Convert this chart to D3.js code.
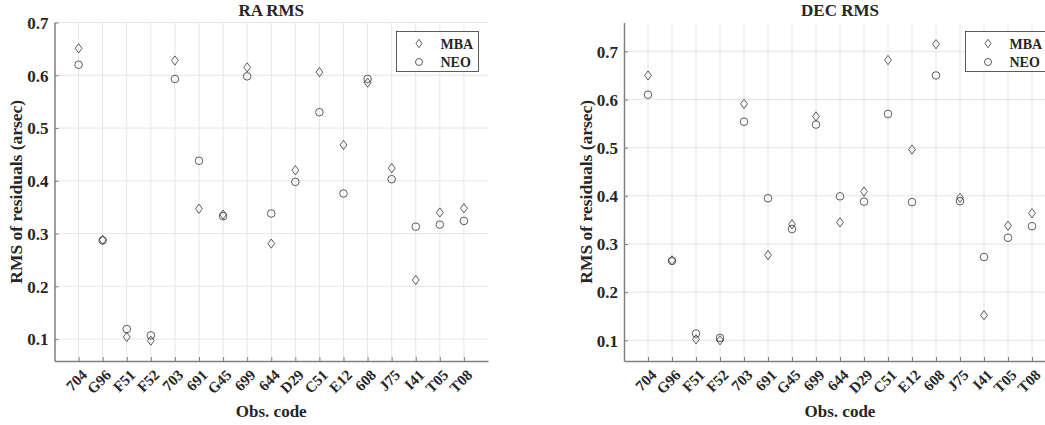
<!DOCTYPE html>
<html><head><meta charset="utf-8">
<script src="https://cdn.jsdelivr.net/npm/d3@7"></script>
<style>body{margin:0;background:#fff}svg{display:block}text{font-family:"Liberation Serif","Times New Roman",serif;font-weight:bold;fill:#262626}</style>
</head><body><svg id="c" width="1045" height="425"></svg>
<script>
const categories = ["704","G96","F51","F52","703","691","G45","699","644","D29","C51","E12","608","J75","I41","T05","T08"];
const raMBA = [0.651,0.288,0.104,0.097,0.628,0.347,0.336,0.615,0.281,0.420,0.606,0.468,0.586,0.424,0.212,0.340,0.348];
const raNEO = [0.620,0.287,0.119,0.107,0.593,0.438,0.333,0.598,0.338,0.398,0.530,0.376,0.593,0.403,0.313,0.317,0.324];
const decMBA = [0.650,0.266,0.102,0.100,0.591,0.277,0.341,0.565,0.345,0.409,0.682,0.496,0.715,0.396,0.152,0.338,0.364];
const decNEO = [0.610,0.265,0.114,0.105,0.554,0.395,0.331,0.548,0.399,0.388,0.570,0.387,0.650,0.389,0.273,0.313,0.337];
const raTicks = [0.1,0.2,0.3,0.4,0.5,0.6,0.7];
const decTicks = [0.1,0.2,0.3,0.4,0.5,0.6,0.7];
const seriesNames = ["MBA","NEO"];

const svg = d3.select("#c");
const FF = "'Liberation Serif','Times New Roman',serif";
const diamond = (cx,cy,w,h)=>`M${cx},${cy-h}L${cx+w},${cy}L${cx},${cy+h}L${cx-w},${cy}Z`;

function panel(o){
  const g = svg.append("g");
  const x = d3.scaleLinear().domain([0,categories.length+1]).range([o.x0,o.x1]);
  const y = d3.scaleLinear().domain(o.ydom).range([o.y1,o.y0]);
  g.selectAll(".gx").data(categories).join("line")
    .attr("x1",(d,i)=>x(i+1)).attr("x2",(d,i)=>x(i+1)).attr("y1",o.y0).attr("y2",o.y1)
    .attr("stroke","#e6e6e6").attr("stroke-width",1);
  g.selectAll(".gy").data(o.ticks).join("line")
    .attr("x1",o.x0).attr("x2",o.x1).attr("y1",d=>y(d)).attr("y2",d=>y(d))
    .attr("stroke","#e6e6e6").attr("stroke-width",1);
  const yAxis = d3.axisLeft(y).tickValues(o.ticks).tickFormat(d3.format(".1f")).tickSizeInner(-4).tickSizeOuter(0).tickPadding(6);
  const ya = g.append("g").attr("transform",`translate(${o.x0},0)`).call(yAxis);
  ya.attr("font-family",FF);
  ya.select(".domain").attr("stroke","#808080").attr("stroke-width",1.5);
  ya.selectAll(".tick line").attr("stroke","#808080");
  ya.selectAll(".tick text").style("font-size","17px").style("font-family",FF).style("font-weight","bold").attr("fill","#262626").attr("dy","0.34em");
  const xAxis = d3.axisBottom(x).tickValues(d3.range(1,categories.length+1)).tickFormat(d=>categories[d-1]).tickSizeInner(-4).tickSizeOuter(0);
  const xa = g.append("g").attr("transform",`translate(0,${o.y1})`).call(xAxis);
  xa.attr("font-family",FF);
  xa.select(".domain").attr("stroke","#808080").attr("stroke-width",1.5);
  xa.selectAll(".tick line").attr("stroke","#808080");
  xa.selectAll(".tick text").style("font-size","15px").style("font-family",FF).style("font-weight","bold").attr("fill","#262626")
    .attr("text-anchor","end").attr("dy",null).attr("y",null)
    .attr("transform","translate(9,15) rotate(-45)");
  g.selectAll(".mba").data(o.mba).join("path")
    .attr("d",(d,i)=>diamond(x(i+1),y(d),3.4,4.6)).attr("fill","none").attr("stroke","#333").attr("stroke-width",0.8);
  g.selectAll(".neo").data(o.neo).join("circle")
    .attr("cx",(d,i)=>x(i+1)).attr("cy",d=>y(d)).attr("r",3.8).attr("fill","none").attr("stroke","#333").attr("stroke-width",0.8);
  g.append("text").attr("x",(o.x0+o.x1)/2).attr("y",16).attr("text-anchor","middle").style("font-size","17px").attr("fill","#000").text(o.title);
  g.append("text").attr("x",(o.x0+o.x1)/2).attr("y",417).attr("text-anchor","middle").style("font-size","17px").text("Obs. code");
  g.append("text").attr("transform",`translate(${o.ylx},${(o.y0+o.y1)/2}) rotate(-90)`).attr("text-anchor","middle").style("font-size","17.5px").text("RMS of residuals (arsec)");
  const lg = g.append("g").attr("transform",`translate(${o.lx},${o.ly})`);
  lg.append("rect").attr("width",82).attr("height",40).attr("fill","#fff").attr("stroke","#333").attr("stroke-width",0.8);
  seriesNames.forEach((s,i)=>{
    const cy = 12+i*18.5;
    if(i===0) lg.append("path").attr("d",diamond(22.5,cy,3,4.2)).attr("fill","none").attr("stroke","#333").attr("stroke-width",0.8);
    else lg.append("circle").attr("cx",22.5).attr("cy",cy).attr("r",3.5).attr("fill","none").attr("stroke","#333").attr("stroke-width",0.8);
    lg.append("text").attr("x",44).attr("y",cy+5).style("font-size","14px").attr("fill","#000").text(s);
  });
}
panel({x0:54.5,x1:488,y0:22.5,y1:361,ydom:[0.0585,0.7],ticks:raTicks,mba:raMBA,neo:raNEO,title:"RA RMS",ylx:22,lx:396.5,ly:31.5});
panel({x0:624,x1:1056,y0:22.5,y1:361,ydom:[0.057,0.76],ticks:decTicks,mba:decMBA,neo:decNEO,title:"DEC RMS",ylx:592,lx:965.5,ly:31.5});
</script></body></html>
